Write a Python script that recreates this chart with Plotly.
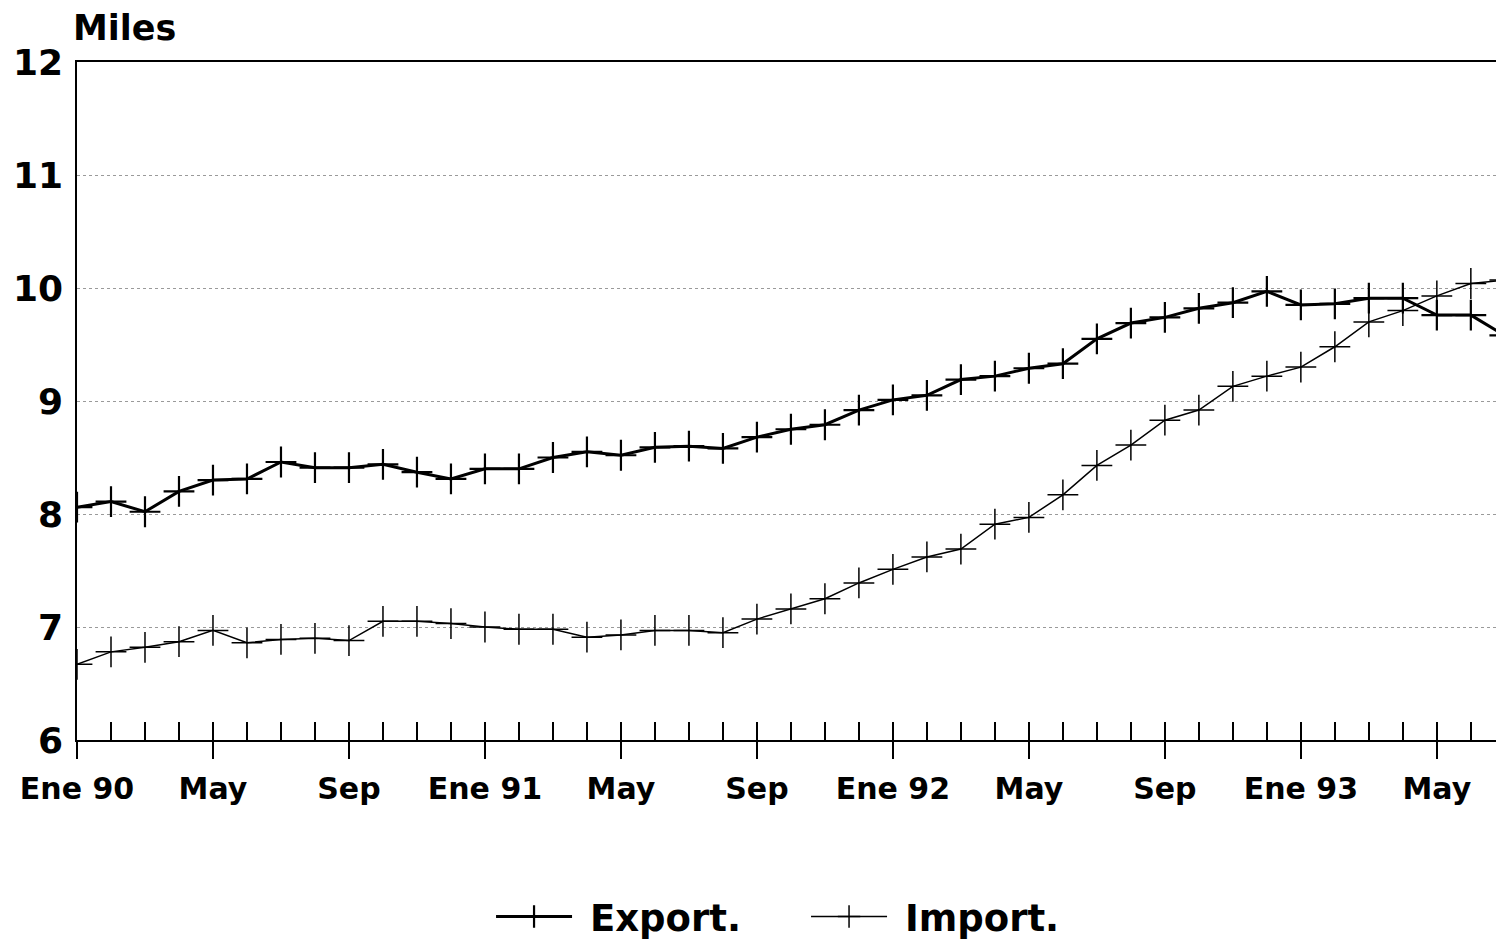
import plotly.graph_objects as go

months = ["Ene 90","Feb 90","Mar 90","Abr 90","May 90","Jun 90","Jul 90","Ago 90","Sep 90","Oct 90","Nov 90","Dic 90",
          "Ene 91","Feb 91","Mar 91","Abr 91","May 91","Jun 91","Jul 91","Ago 91","Sep 91","Oct 91","Nov 91","Dic 91",
          "Ene 92","Feb 92","Mar 92","Abr 92","May 92","Jun 92","Jul 92","Ago 92","Sep 92","Oct 92","Nov 92","Dic 92",
          "Ene 93","Feb 93","Mar 93","Abr 93","May 93","Jun 93","Jul 93"]

export_vals = [8.06, 8.11, 8.02, 8.20, 8.30, 8.31, 8.46, 8.41, 8.41, 8.44, 8.37, 8.31,
               8.40, 8.40, 8.50, 8.55, 8.52, 8.59, 8.60, 8.58, 8.68, 8.75, 8.79, 8.92,
               9.01, 9.05, 9.19, 9.22, 9.29, 9.33, 9.55, 9.69, 9.74, 9.82, 9.87, 9.97,
               9.85, 9.86, 9.91, 9.91, 9.76, 9.76, 9.58]

import_vals = [6.67, 6.78, 6.82, 6.87, 6.97, 6.86, 6.89, 6.90, 6.88, 7.05, 7.05, 7.03,
               7.00, 6.98, 6.98, 6.91, 6.93, 6.97, 6.97, 6.95, 7.07, 7.16, 7.25, 7.39,
               7.51, 7.62, 7.69, 7.91, 7.97, 8.17, 8.43, 8.61, 8.83, 8.92, 9.13, 9.22,
               9.30, 9.48, 9.70, 9.80, 9.93, 10.04, 10.07]

tick_labels = ["Ene 90","May","Sep","Ene 91","May","Sep","Ene 92","May","Sep","Ene 93","May"]
y_ticks = [6, 7, 8, 9, 10, 11, 12]

idx = list(range(len(months)))
major_ticks = [i for i in idx if i % 4 == 0][:len(tick_labels)]

FONT = "DejaVu Sans"

fig = go.Figure()
fig.add_trace(go.Scatter(
    x=idx, y=export_vals, name=" Export.", mode="lines+markers",
    line=dict(color="black", width=3),
    marker=dict(symbol="cross-thin", size=22, line=dict(color="black", width=2.2)),
    text=months, hoverinfo="text+y"))
fig.add_trace(go.Scatter(
    x=idx, y=import_vals, name=" Import.", mode="lines+markers",
    line=dict(color="black", width=1.5),
    marker=dict(symbol="cross-thin", size=22, line=dict(color="black", width=1.5)),
    text=months, hoverinfo="text+y"))
# invisible helper trace so the monthly tick axis is drawn
fig.add_trace(go.Scatter(
    x=idx, y=import_vals, xaxis="x2", mode="lines", opacity=0,
    line=dict(width=0), showlegend=False, hoverinfo="skip"))

xr = [0, 41.74]
fig.update_layout(
    width=1496, height=940,
    margin=dict(l=77, r=0, t=62, b=200, autoexpand=False),
    paper_bgcolor="white", plot_bgcolor="white",
    font=dict(family=FONT, color="black"),
    showlegend=True,
    legend=dict(orientation="h", xref="container", yref="container",
                x=0.5388, xanchor="center", y=0.0245, yanchor="middle",
                font=dict(family=FONT, size=37, weight="bold", color="black"),
                itemwidth=76, entrywidth=224, bgcolor="rgba(0,0,0,0)"),
    xaxis=dict(range=xr, tickmode="array", tickvals=major_ticks, ticktext=tick_labels,
               ticks="outside", ticklen=17, tickwidth=1.5, tickcolor="black",
               showline=True, linecolor="black", linewidth=1.5, mirror=True,
               showgrid=False, zeroline=False, ticklabelstandoff=4,
               tickfont=dict(family=FONT, size=30, weight="bold", color="black")),
    xaxis2=dict(range=xr, overlaying="x", anchor="y", side="bottom",
                tickmode="array", tickvals=idx, ticks="inside", ticklen=18, tickwidth=1.5,
                tickcolor="black", showticklabels=False, showgrid=False, zeroline=False,
                showline=False),
    yaxis=dict(range=[6, 12], tickmode="array", tickvals=y_ticks,
               showline=True, linecolor="black", linewidth=1.5,
               showgrid=True, gridcolor="#9a9a9a", gridwidth=1, griddash="dot",
               zeroline=False, ticks="", ticklabelstandoff=5,
               tickfont=dict(family=FONT, size=36, weight="bold", color="black")),
    annotations=[dict(text="Miles", xref="paper", yref="paper", x=0, y=1.0,
                      xanchor="left", yanchor="bottom", yshift=12, xshift=-6, showarrow=False,
                      font=dict(family=FONT, size=35, weight="bold", color="black"))],
)

fig.write_html("out.html", config={"displayModeBar": False},
               post_script="document.body.style.margin='0';")
